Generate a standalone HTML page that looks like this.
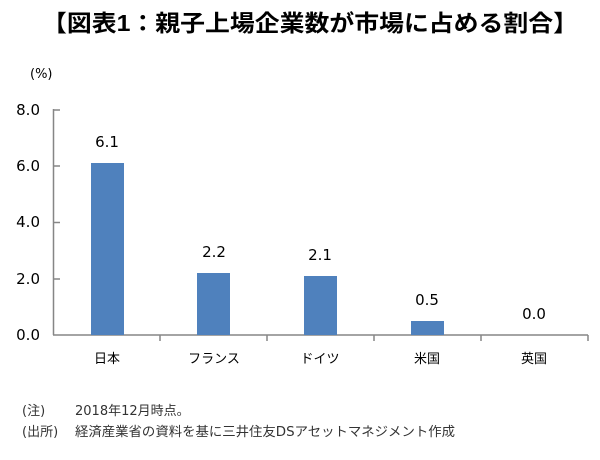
<!DOCTYPE html>
<html><head><meta charset="utf-8"><style>
body{margin:0;background:#fff;width:600px;height:455px;overflow:hidden}
svg text{font-family:"DejaVu Sans","Noto Sans CJK JP",sans-serif}
</style></head><body>
<svg width="600" height="455" viewBox="0 0 600 455">
<text x="42" y="31" font-size="23" font-weight="bold" fill="#000" textLength="536" lengthAdjust="spacingAndGlyphs" style="font-family:'Liberation Sans','Noto Sans CJK JP',sans-serif">【図表1：親子上場企業数が市場に占める割合】</text>
<text x="30" y="78" font-size="13" fill="#000">(%)</text>
<g font-size="15" fill="#000" text-anchor="end">
<text x="40" y="115">8.0</text>
<text x="40" y="171">6.0</text>
<text x="40" y="227">4.0</text>
<text x="40" y="284">2.0</text>
<text x="40" y="340">0.0</text>
</g>
<g stroke="#868686" stroke-width="1.5" fill="none">
<line x1="53.5" y1="109" x2="53.5" y2="335"/>
<line x1="53" y1="335" x2="588" y2="335"/>
<line x1="53" y1="110" x2="60" y2="110"/>
<line x1="53" y1="166" x2="60" y2="166"/>
<line x1="53" y1="222.5" x2="60" y2="222.5"/>
<line x1="53" y1="279" x2="60" y2="279"/>
<line x1="160" y1="335" x2="160" y2="341"/>
<line x1="267" y1="335" x2="267" y2="341"/>
<line x1="374" y1="335" x2="374" y2="341"/>
<line x1="481" y1="335" x2="481" y2="341"/>
<line x1="588" y1="335" x2="588" y2="341"/>
</g>
<g fill="#4f81bd">
<rect x="91" y="163" width="33" height="172"/>
<rect x="197" y="273" width="33" height="62"/>
<rect x="304" y="276" width="33" height="59"/>
<rect x="411" y="321" width="33" height="14"/>
</g>
<g font-size="15" fill="#000" text-anchor="middle">
<text x="107" y="147">6.1</text>
<text x="214" y="257">2.2</text>
<text x="320" y="260">2.1</text>
<text x="427" y="305">0.5</text>
<text x="534" y="319">0.0</text>
</g>
<g font-size="13" fill="#000" text-anchor="middle">
<text x="107" y="363">日本</text>
<text x="214" y="363">フランス</text>
<text x="320" y="363">ドイツ</text>
<text x="427" y="363">米国</text>
<text x="534" y="363">英国</text>
</g>
<g font-size="13" fill="#333">
<text x="22" y="415">(注)</text>
<text x="75" y="415">2018年12月時点。</text>
<text x="22" y="436">(出所)</text>
<text x="75" y="436" textLength="380" lengthAdjust="spacingAndGlyphs">経済産業省の資料を基に三井住友DSアセットマネジメント作成</text>
</g>
</svg>
</body></html>
